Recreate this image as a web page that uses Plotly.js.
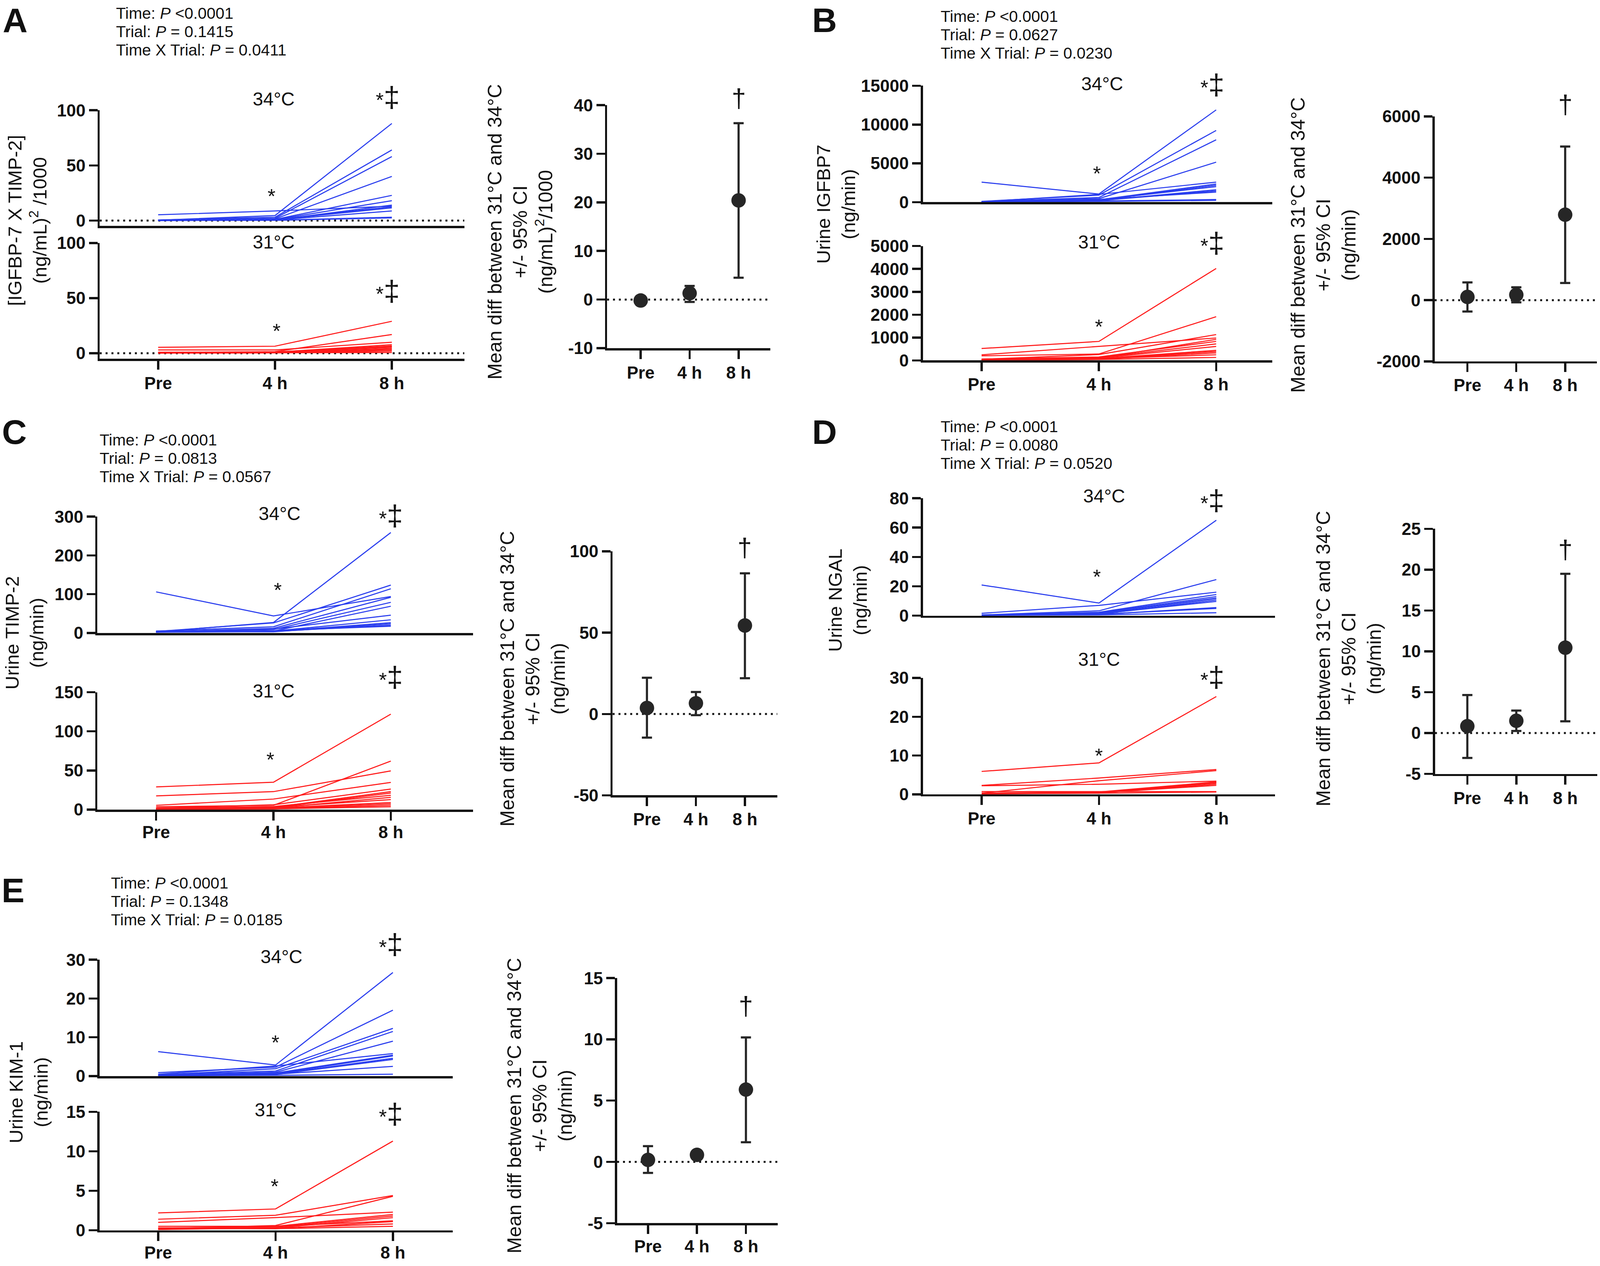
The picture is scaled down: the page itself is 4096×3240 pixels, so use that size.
<!DOCTYPE html>
<html><head><meta charset="utf-8">
<script src="https://cdn.plot.ly/plotly-3.0.1.min.js"></script>
<style>html,body{margin:0;padding:0;background:#fff}</style>
</head><body>
<div id="chart" style="width:4096px;height:3240px"></div>
<script>
// ---------------- DATA ----------------
const timepoints = ['Pre', '4 h', '8 h'];

// Panel A: [IGFBP-7 x TIMP-2] (ng/mL)^2/1000, rows = participants [Pre, 4 h, 8 h]
const A_34 = [[0.3,4.5,88],[0.5,3,64],[0.2,2,58],[0.4,1.5,40],[5.2,8.7,13],[0.3,1,22.8],[0.2,0.8,18],[0.1,0.5,14],[0.3,0.6,11.5],[0.2,0.4,8.7],[0.1,0.3,3],[0.1,0.2,2.4],[0.2,0.6,12.5]];
const A_31 = [[5.4,6.4,29],[0.5,1.5,17],[3,3,10],[0.5,1,7.8],[0.3,0.8,6.6],[0.4,1,5.4],[0.2,0.5,4.3],[0.3,0.7,3],[0.2,0.4,1.9],[0.1,0.3,0.7],[1,1.2,6],[0.5,0.8,4]];
const A_diffMean = [-0.2, 1.3, 20.4];
const A_diffHi   = [0.7, 2.8, 36.3];
const A_diffLo   = [-1.1, -0.5, 4.5];

// Panel B: Urine IGFBP7 (ng/min)
const B_34 = [[2580,1050,11890],[100,900,9240],[80,600,8035],[60,450,5155],[50,1000,2580],[70,300,2340],[50,250,2180],[40,200,1600],[60,350,1300],[30,150,335],[40,100,234],[50,300,2000],[30,200,1450]];
const B_31 = [[520,830,4020],[245,610,980],[200,280,1910],[50,255,1130],[40,100,920],[60,150,830],[30,120,720],[50,100,610],[40,80,440],[30,60,390],[20,50,330],[30,80,245],[20,40,130]];
const B_diffMean = [105, 175, 2790];
const B_diffHi   = [580, 420, 5015];
const B_diffLo   = [-370, -70, 560];

// Panel C: Urine TIMP-2 (ng/min)
const C_34 = [[106,44,94],[3,27,259],[4,26,123.5],[5,16,114],[3,12,92],[2,9,79],[4,5,69],[3,10,46],[2,5,34],[5,4,26.5],[3,3,23.5],[2,4,20],[3,6,17.6]];
const C_31 = [[29,35,122],[17.6,23,49.5],[3.7,5.5,62],[5.5,13.5,34.8],[2,6.2,26.3],[1.5,3,23],[1,2.5,21.2],[2,4,18.3],[1,2,15.7],[1.5,3,12.8],[1,2,9.1],[0.5,1.5,7.3],[1,1,5.5],[0.5,1,3.7]];
const C_diffMean = [3.7, 6.6, 54.4];
const C_diffHi   = [22.3, 13.5, 86.5];
const C_diffLo   = [-14.5, -0.7, 22];

// Panel D: Urine NGAL (ng/min)
const D_34 = [[20.9,8.6,65],[1.6,7,16],[0.5,3.3,24.6],[0.3,2.3,14.4],[0.4,2,13],[0.3,1.5,11.7],[0.5,1,10.7],[0.2,1.2,9.7],[0.3,0.8,5.5],[0.2,1,4.9],[0.1,0.5,2],[0.3,1.5,12]];
const D_31 = [[5.9,8.1,25.2],[2.3,4.2,6.4],[0.3,3.5,6.1],[2.2,2.6,3.4],[0.7,0.7,0.7],[0.2,0.5,3.1],[0.1,0.3,2.9],[0.2,0.4,2.3],[0.3,0.6,3.2],[0.2,0.3,0.6],[0.1,0.4,2.6]];
const D_diffMean = [0.84, 1.5, 10.45];
const D_diffHi   = [4.65, 2.75, 19.5];
const D_diffLo   = [-3.05, 0.26, 1.44];

// Panel E: Urine KIM-1 (ng/min)
const E_34 = [[6.3,2.85,26.7],[0.9,2.3,17],[0.3,1.9,12.3],[0.4,1.3,11.5],[0.2,1,9],[0.5,2.6,5.8],[0.3,0.8,5.4],[0.2,0.6,5.2],[0.3,0.5,4.6],[0.1,0.4,4.3],[0.2,0.5,2.5],[0.1,0.2,0.5]];
const E_31 = [[2.2,2.7,11.3],[1.4,1.9,4.4],[0.2,0.6,4.3],[1,1.6,2.3],[0.5,0.5,2],[0.3,0.4,1.8],[0.2,0.3,1.6],[0.1,0.5,1.2],[0.3,0.2,1.1],[0.1,0.3,0.8],[0.2,0.2,0.5]];
const E_diffMean = [0.16, 0.57, 5.9];
const E_diffHi   = [1.28, 0.8, 10.16];
const E_diffLo   = [-0.9, 0.35, 1.6];

// Tick values
const A_ticksTop = [0,50,100], A_ticksBot = [0,50,100], A_ticksDiff = [-10,0,10,20,30,40];
const B_ticksTop = [0,5000,10000,15000], B_ticksBot = [0,1000,2000,3000,4000,5000], B_ticksDiff = [-2000,0,2000,4000,6000];
const C_ticksTop = [0,100,200,300], C_ticksBot = [0,50,100,150], C_ticksDiff = [-50,0,50,100];
const D_ticksTop = [0,20,40,60,80], D_ticksBot = [0,10,20,30], D_ticksDiff = [-5,0,5,10,15,20,25];
const E_ticksTop = [0,10,20,30], E_ticksBot = [0,5,10,15], E_ticksDiff = [-5,0,5,10,15];

// Texts
const A_stats = ['Time: <i>P</i> &lt;0.0001', 'Trial: <i>P</i> = 0.1415', 'Time X Trial: <i>P</i> = 0.0411'];
const B_stats = ['Time: <i>P</i> &lt;0.0001', 'Trial: <i>P</i> = 0.0627', 'Time X Trial: <i>P</i> = 0.0230'];
const C_stats = ['Time: <i>P</i> &lt;0.0001', 'Trial: <i>P</i> = 0.0813', 'Time X Trial: <i>P</i> = 0.0567'];
const D_stats = ['Time: <i>P</i> &lt;0.0001', 'Trial: <i>P</i> = 0.0080', 'Time X Trial: <i>P</i> = 0.0520'];
const E_stats = ['Time: <i>P</i> &lt;0.0001', 'Trial: <i>P</i> = 0.1348', 'Time X Trial: <i>P</i> = 0.0185'];
const A_ytitle = '[IGFBP-7 X TIMP-2]<br>(ng/mL)<sup>2</sup> /1000';
const B_ytitle = 'Urine IGFBP7<br>(ng/min)';
const C_ytitle = 'Urine TIMP-2<br>(ng/min)';
const D_ytitle = 'Urine NGAL<br>(ng/min)';
const E_ytitle = 'Urine KIM-1<br>(ng/min)';
const A_difftitle = 'Mean diff between 31°C and 34°C<br>+/- 95% CI<br>(ng/mL)<sup>2</sup>/1000';
const unitDiffTitle = 'Mean diff between 31°C and 34°C<br>+/- 95% CI<br>(ng/min)';
const trialLabels = ['34°C', '31°C'];
const sigMark = '*<span style="font-size:74px">‡</span>';

// ---------------- LAYOUT GEOMETRY (reference coords, 1568x1240) ----------------
const W = 1568, H = 1240;
const px = x => x / W, py = y => 1 - y / H;
const FONT = '"Liberation Sans", Arial, Helvetica, sans-serif';
const BLUE = 'rgb(40,60,238)', RED = 'rgb(255,25,25)', DARK = '#262626', INK = '#111111';

const panels = [
  { letter:'A', letterPos:[15,0], letterTop:true, stats:A_stats, statsX:113, statsY:[13,31,49], hi:A_34, lo:A_31,
    dm:A_diffMean, dh:A_diffHi, dl:A_diffLo, tT:A_ticksTop, tB:A_ticksBot, tD:A_ticksDiff,
    ytitle:A_ytitle, ytitlePos:[27,216], dtitle:A_difftitle, dtitlePos:[510,227],
    lx:[97.75,455], lxr:[-0.5,2.62], top:[108,221.4], topR:[-5,100], bot:[238,351.4], botR:[-5,100], zeroDots:true,
    dx:[595,755], dxr:[-0.685,2.65], dy:[103,341], dyr:[-10,40], sbL:-2, sbD:-2,
    tempPos:[[268,97],[268,237]], sigPos:[[380,95],[380,285]], starPos:[[266,192],[271,324]], dagger:[724,96] },
  { letter:'B', letterPos:[808,0], letterTop:true, stats:B_stats, statsX:921, statsY:[16,34,52], hi:B_34, lo:B_31,
    dm:B_diffMean, dh:B_diffHi, dl:B_diffLo, tT:B_ticksTop, tB:B_ticksBot, tD:B_ticksDiff,
    ytitle:B_ytitle, ytitlePos:[819,200], dtitle:unitDiffTitle, dtitlePos:[1297,240],
    lx:[904.5,1247], lxr:[-0.5,2.48], top:[84,198], topR:[0,15000], bot:[241,353], botR:[0,5000], zeroDots:false,
    dx:[1406,1565], dxr:[-0.67,2.65], dy:[114,354], dyr:[-2000,6000], sbL:-4, sbD:-4,
    tempPos:[[1080,82],[1077,237]], sigPos:[[1188,83],[1188,238]], starPos:[[1075,170],[1077,320]], dagger:[1534,102] },
  { letter:'C', letterPos:[14,423], letterTop:false, stats:C_stats, statsX:97, statsY:[431,449,467], hi:C_34, lo:C_31,
    dm:C_diffMean, dh:C_diffHi, dl:C_diffLo, tT:C_ticksTop, tB:C_ticksBot, tD:C_ticksDiff,
    ytitle:C_ytitle, ytitlePos:[24,620], dtitle:unitDiffTitle, dtitlePos:[522,665],
    lx:[95.5,463.5], lxr:[-0.5,2.7], top:[506,620], topR:[0,300], bot:[678,793], botR:[0,150], zeroDots:false,
    dx:[600.4,761.7], dxr:[-0.7,2.66], dy:[540,779], dyr:[-50,100], sbL:-7, sbD:-4,
    tempPos:[[274,503],[268,677]], sigPos:[[383,505],[383,663]], starPos:[[272,578],[265,744]], dagger:[730,536] },
  { letter:'D', letterPos:[808,423], letterTop:false, stats:D_stats, statsX:921, statsY:[418,436,454], hi:D_34, lo:D_31,
    dm:D_diffMean, dh:D_diffHi, dl:D_diffLo, tT:D_ticksTop, tB:D_ticksBot, tD:D_ticksDiff,
    ytitle:D_ytitle, ytitlePos:[831,588], dtitle:unitDiffTitle, dtitlePos:[1322,645],
    lx:[904.5,1249.5], lxr:[-0.5,2.5], top:[488,603], topR:[0,80], bot:[664,778], botR:[0,30], zeroDots:false,
    dx:[1406.3,1565.2], dxr:[-0.66,2.65], dy:[518,758], dyr:[-5,25], sbL:-3, sbD:-3,
    tempPos:[[1082,486],[1077,646]], sigPos:[[1188,490],[1188,663]], starPos:[[1075,565],[1077,740]], dagger:[1534,538] },
  { letter:'E', letterPos:[13,872], letterTop:false, stats:E_stats, statsX:108, statsY:[865,883,901], hi:E_34, lo:E_31,
    dm:E_diffMean, dh:E_diffHi, dl:E_diffLo, tT:E_ticksTop, tB:E_ticksBot, tD:E_ticksDiff,
    ytitle:E_ytitle, ytitlePos:[28,1070], dtitle:unitDiffTitle, dtitlePos:[529,1083],
    lx:[97.5,443.7], lxr:[-0.5,2.51], top:[940,1054], topR:[0,30], bot:[1089,1205], botR:[0,15], zeroDots:false,
    dx:[604.8,762.2], dxr:[-0.63,2.65], dy:[958,1198], dyr:[-5,15], sbL:-8, sbD:-6,
    tempPos:[[276,937],[270,1087]], sigPos:[[383,925],[383,1091]], starPos:[[270,1021],[269,1162]], dagger:[731,985] }
];

// ---------------- BUILD ----------------
const traces = [];
const layout = {
  width:4096, height:3240, margin:{l:0,r:0,t:0,b:0,pad:0},
  paper_bgcolor:'#ffffff', plot_bgcolor:'rgba(0,0,0,0)', showlegend:false,
  font:{family:FONT, color:INK}, annotations:[], shapes:[], hovermode:false
};

const AXW = 5.5;
function yAxis(domainY, range, ticks, anchor) {
  return { domain:[py(domainY[1]), py(domainY[0])], range:range, anchor:anchor,
    showline:true, linewidth:AXW, linecolor:INK, ticks:'outside', ticklen:22, tickwidth:AXW, tickcolor:INK,
    tickvals:ticks, ticktext:ticks.map(String), showgrid:false, zeroline:false,
    tickfont:{family:FONT, size:44, weight:'bold', color:INK}, fixedrange:true };
}
function xAxis(domainX, range, anchor, labels, standoff) {
  return { domain:[px(domainX[0]), px(domainX[1])], range:range, anchor:anchor, type:'category',
    categoryorder:'array', categoryarray:timepoints,
    showline:true, linewidth:AXW, linecolor:INK, ticks: labels ? 'outside' : '', ticklen:22, tickwidth:AXW, tickcolor:INK,
    showticklabels:labels, showgrid:false, zeroline:false, ticklabelstandoff:standoff || 0,
    tickfont:{family:FONT, size:44, weight:'bold', color:INK}, fixedrange:true };
}
function ann(text, x, y, opts) {
  layout.annotations.push(Object.assign({ text:text, x:px(x), y:py(y), xref:'paper', yref:'paper',
    showarrow:false, xanchor:'center', yanchor:'middle', font:{family:FONT, size:48, color:INK} }, opts || {}));
}
function dotted(n) {
  layout.shapes.push({ type:'line', xref:'x'+n+' domain', x0:0, x1:1, yref:'y'+n, y0:0, y1:0, layer:'below',
    line:{color:INK, width:5, dash:'5px,10px'} });
}

panels.forEach((p, i) => {
  const nT = 3*i+1, nB = 3*i+2, nD = 3*i+3;
  const k = n => (n === 1 ? '' : String(n));
  layout['xaxis'+k(nT)] = xAxis(p.lx, p.lxr, 'y'+k(nT), false, 0);
  layout['yaxis'+k(nT)] = yAxis(p.top, p.topR, p.tT, 'x'+k(nT));
  layout['xaxis'+k(nB)] = xAxis(p.lx, p.lxr, 'y'+k(nB), true, p.sbL);
  layout['yaxis'+k(nB)] = yAxis(p.bot, p.botR, p.tB, 'x'+k(nB));
  layout['xaxis'+k(nD)] = xAxis(p.dx, p.dxr, 'y'+k(nD), true, p.sbD);
  layout['yaxis'+k(nD)] = yAxis(p.dy, p.dyr, p.tD, 'x'+k(nD));

  p.hi.forEach(row => traces.push({ type:'scatter', mode:'lines', x:timepoints, y:row,
    xaxis:'x'+k(nT), yaxis:'y'+k(nT), line:{color:BLUE, width:2.7}, hoverinfo:'skip' }));
  p.lo.forEach(row => traces.push({ type:'scatter', mode:'lines', x:timepoints, y:row,
    xaxis:'x'+k(nB), yaxis:'y'+k(nB), line:{color:RED, width:2.7}, hoverinfo:'skip' }));
  traces.push({ type:'scatter', mode:'markers', x:timepoints, y:p.dm, xaxis:'x'+k(nD), yaxis:'y'+k(nD),
    cliponaxis:false, marker:{size:37, color:DARK},
    error_y:{ type:'data', symmetric:false, array:p.dh.map((h,j)=>h-p.dm[j]), arrayminus:p.dm.map((m,j)=>m-p.dl[j]),
      color:DARK, thickness:5.5, width:13 } });

  if (p.zeroDots) { dotted(k(nT)); dotted(k(nB)); }
  dotted(k(nD));

  ann('<b>'+p.letter+'</b>', p.letterPos[0], p.letterPos[1],
      { yanchor: p.letterTop ? 'top' : 'middle', font:{family:FONT, size:88, color:INK} });
  p.stats.forEach((s, j) => ann(s, p.statsX, p.statsY[j], { xanchor:'left', font:{family:FONT, size:41, color:INK} }));
  trialLabels.forEach((t, j) => ann(t, p.tempPos[j][0], p.tempPos[j][1], { font:{family:FONT, size:48, color:INK} }));
  p.sigPos.forEach(pos => ann(sigMark, pos[0], pos[1], { font:{family:FONT, size:52, color:INK} }));
  p.starPos.forEach(pos => ann('*', pos[0], pos[1], { font:{family:FONT, size:52, color:INK} }));
  ann('†', p.dagger[0], p.dagger[1], { font:{family:FONT, size:66, color:INK} });
  ann(p.ytitle, p.ytitlePos[0], p.ytitlePos[1], { textangle:-90, font:{family:FONT, size:49, color:INK} });
  ann(p.dtitle, p.dtitlePos[0], p.dtitlePos[1], { textangle:-90, font:{family:FONT, size:50, color:INK} });
});

Plotly.newPlot('chart', traces, layout, {staticPlot:true, displayModeBar:false});
</script>
</body></html>
